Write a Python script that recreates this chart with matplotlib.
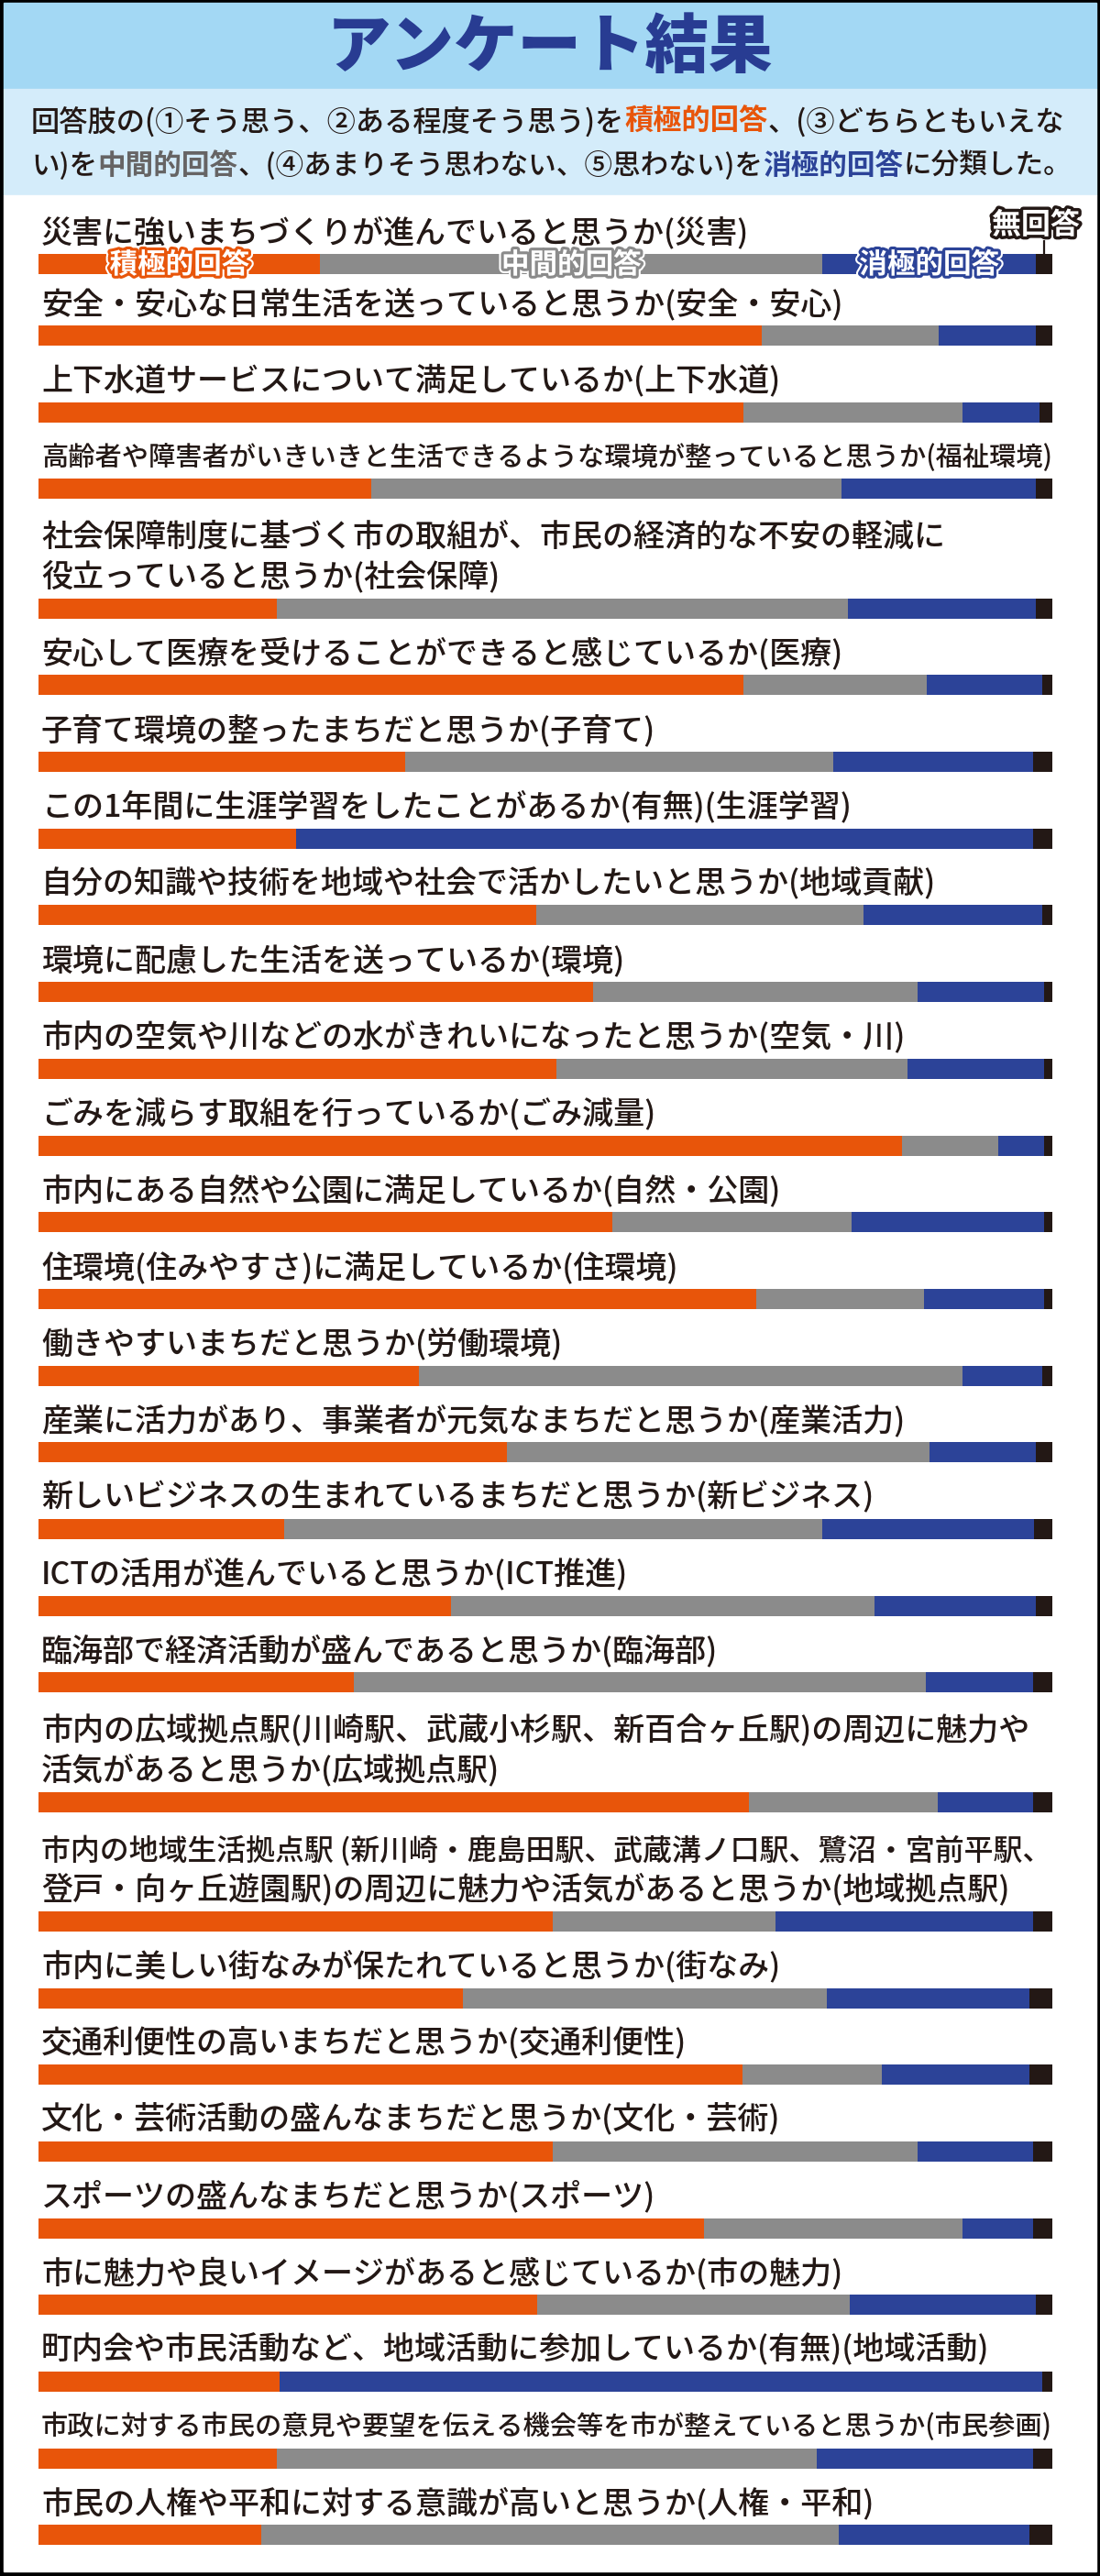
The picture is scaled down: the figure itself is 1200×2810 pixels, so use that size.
import matplotlib
matplotlib.use('Agg')
import matplotlib.pyplot as plt
from matplotlib.patches import Rectangle
import matplotlib.patheffects as pe

plt.rcParams['font.family'] = ['Noto Sans CJK JP', 'DejaVu Sans']

# ---------------- data ----------------
title = 'アンケート結果'
intro_line1 = [('回答肢の(①そう思う、②ある程度そう思う)を', 'plain'),
               ('積極的回答', 'pos'),
               ('、(③どちらともいえな', 'plain')]
intro_line2 = [('い)を', 'plain'), ('中間的回答', 'mid'),
               ('、(④あまりそう思わない、⑤思わない)を', 'plain'),
               ('消極的回答', 'neg'), ('に分類した。', 'plain')]

categories = ['積極的回答', '中間的回答', '消極的回答', '無回答']

questions = [
    '災害に強いまちづくりが進んでいると思うか(災害)',
    '安全・安心な日常生活を送っていると思うか(安全・安心)',
    '上下水道サービスについて満足しているか(上下水道)',
    '高齢者や障害者がいきいきと生活できるような環境が整っていると思うか(福祉環境)',
    '社会保障制度に基づく市の取組が、市民の経済的な不安の軽減に\n役立っていると思うか(社会保障)',
    '安心して医療を受けることができると感じているか(医療)',
    '子育て環境の整ったまちだと思うか(子育て)',
    'この1年間に生涯学習をしたことがあるか(有無)(生涯学習)',
    '自分の知識や技術を地域や社会で活かしたいと思うか(地域貢献)',
    '環境に配慮した生活を送っているか(環境)',
    '市内の空気や川などの水がきれいになったと思うか(空気・川)',
    'ごみを減らす取組を行っているか(ごみ減量)',
    '市内にある自然や公園に満足しているか(自然・公園)',
    '住環境(住みやすさ)に満足しているか(住環境)',
    '働きやすいまちだと思うか(労働環境)',
    '産業に活力があり、事業者が元気なまちだと思うか(産業活力)',
    '新しいビジネスの生まれているまちだと思うか(新ビジネス)',
    'ICTの活用が進んでいると思うか(ICT推進)',
    '臨海部で経済活動が盛んであると思うか(臨海部)',
    '市内の広域拠点駅(川崎駅、武蔵小杉駅、新百合ヶ丘駅)の周辺に魅力や\n活気があると思うか(広域拠点駅)',
    '市内の地域生活拠点駅 (新川崎・鹿島田駅、武蔵溝ノ口駅、鷺沼・宮前平駅、\n登戸・向ヶ丘遊園駅)の周辺に魅力や活気があると思うか(地域拠点駅)',
    '市内に美しい街なみが保たれていると思うか(街なみ)',
    '交通利便性の高いまちだと思うか(交通利便性)',
    '文化・芸術活動の盛んなまちだと思うか(文化・芸術)',
    'スポーツの盛んなまちだと思うか(スポーツ)',
    '市に魅力や良いイメージがあると感じているか(市の魅力)',
    '町内会や市民活動など、地域活動に参加しているか(有無)(地域活動)',
    '市政に対する市民の意見や要望を伝える機会等を市が整えていると思うか(市民参画)',
    '市民の人権や平和に対する意識が高いと思うか(人権・平和)',
]

positive = [27.8, 71.3, 69.5, 32.8, 23.5, 69.5, 36.2, 25.4, 49.1, 54.7,
            51.1, 85.2, 56.6, 70.8, 37.5, 46.2, 24.2, 40.7, 31.1, 70.1,
            50.7, 41.9, 69.4, 50.7, 65.6, 49.2, 23.8, 23.5, 22.0]
neutral = [49.5, 17.5, 21.6, 46.4, 56.3, 18.1, 42.2, 0.0, 32.3, 32.0,
           34.6, 9.5, 23.6, 16.5, 53.6, 41.7, 53.1, 41.8, 56.4, 18.6,
           22.0, 35.9, 13.8, 36.0, 25.5, 30.8, 0.0, 53.3, 56.9]
negative = [21.1, 9.6, 7.6, 19.2, 18.6, 11.4, 19.7, 72.7, 17.6, 12.5,
            13.5, 4.5, 19.0, 11.9, 7.9, 10.5, 20.9, 15.9, 10.6, 9.4,
            25.4, 19.9, 14.5, 11.4, 7.0, 18.4, 75.2, 21.3, 18.8]
no_answer = [1.6, 1.6, 1.3, 1.6, 1.6, 1.0, 1.9, 1.9, 1.0, 0.8,
             0.8, 0.8, 0.8, 0.8, 1.0, 1.6, 1.8, 1.6, 1.9, 1.9,
             1.9, 2.3, 2.3, 1.9, 1.9, 1.6, 1.0, 1.9, 2.3]

# ---------------- style / layout ----------------
W, H = 1200, 2810
ORANGE = '#E8550A'
GRAY = '#8B8B8B'
BLUE = '#2C4398'
BLACK = '#231815'
TITLE_BG = '#A3D8F4'
INTRO_BG = '#D4ECFA'
TITLE_COLOR = '#283C92'
seg_colors = [ORANGE, GRAY, BLUE, BLACK]

BAR_L, BAR_R = 42, 1148
BAR_H = 22
FIRST_TOP = 277
FIRST_GAP = 78
ROW_STEP = 83.7
EXTRA_LINE = 46.5
LABEL_X = 45
LABEL_SIZE = 24.5
LINE_GAP = 43

fig = plt.figure(figsize=(W / 100, H / 100), dpi=100)
fig.patch.set_facecolor('black')
bg = fig.add_axes([0, 0, 1, 1])
bg.set_xlim(0, W)
bg.set_ylim(H, 0)
bg.axis('off')

bg.add_patch(Rectangle((0, 0), W, H, color='black', zorder=0))
bg.add_patch(Rectangle((4, 3), W - 8, 94, color=TITLE_BG, zorder=1))
bg.add_patch(Rectangle((4, 97), W - 8, 116, color=INTRO_BG, zorder=1))
bg.add_patch(Rectangle((4, 213), W - 8, H - 5 - 213, color='white', zorder=1))

bg.text(W / 2, 53, title, fontsize=50, fontweight='black', color=TITLE_COLOR,
        ha='center', va='center', zorder=3)

renderer = fig.canvas.get_renderer()

style_kw = {
    'plain': dict(color=BLACK, fontweight='medium'),
    'pos': dict(color=ORANGE, fontweight='bold'),
    'mid': dict(color='#666464', fontweight='bold'),
    'neg': dict(color=BLUE, fontweight='bold'),
}


def draw_pieces(x, y, pieces, size, maxw, fit=True):
    texts = []
    cur = x
    for s, st in pieces:
        t = bg.text(cur, y, s, fontsize=size, ha='left', va='center', zorder=3,
                    **style_kw[st])
        cur += t.get_window_extent(renderer).width
        texts.append(t)
    total = cur - x
    if fit and total > maxw:
        for t in texts:
            t.remove()
        draw_pieces(x, y, pieces, size * maxw / total, maxw, fit=False)


draw_pieces(34, 133, intro_line1, 22.5, 1135)
draw_pieces(34, 181, intro_line2, 22.5, 1135)

# row positions
tops = []
y = FIRST_TOP
for i, q in enumerate(questions):
    if i > 0:
        n = q.count('\n') + 1
        y += (FIRST_GAP if i == 1 else ROW_STEP) + EXTRA_LINE * (n - 1)
    tops.append(y)

for q, top in zip(questions, tops):
    lines = q.split('\n')
    for j, line in enumerate(lines):
        ly = top - 23 - LINE_GAP * (len(lines) - 1 - j)
        draw_pieces(LABEL_X, ly, [(line, 'plain')], LABEL_SIZE, BAR_R - LABEL_X)

# bars
ax = fig.add_axes([BAR_L / W, 0, (BAR_R - BAR_L) / W, 1])
ax.set_xlim(0, 100)
ax.set_ylim(H, 0)
ax.axis('off')
ax.patch.set_alpha(0)

centers = [t + BAR_H / 2 for t in tops]
series = [positive, neutral, negative, no_answer]
left = [0.0] * len(questions)
for vals, col, cat in zip(series, seg_colors, categories):
    ax.barh(centers, vals, left=left, height=BAR_H, color=col, linewidth=0,
            label=cat, zorder=2)
    left = [a + b for a, b in zip(left, vals)]

# in-bar legend on the first row
c0 = centers[0]
bounds = [0, positive[0], positive[0] + neutral[0],
          positive[0] + neutral[0] + negative[0], 100]
for k in range(3):
    xm = (bounds[k] + bounds[k + 1]) / 2
    ax.text(xm, c0 + 1, categories[k], fontsize=22, fontweight='bold', color='white',
            ha='center', va='center', zorder=5,
            path_effects=[pe.Stroke(linewidth=7.5, foreground='white'),
                          pe.Stroke(linewidth=4.5, foreground=seg_colors[k]),
                          pe.Normal()])

xn = (bounds[3] + bounds[4]) / 2
ax.plot([xn, xn], [262, tops[0]], color=BLACK, lw=1.6, zorder=4,
        solid_capstyle='butt')
bg.text(1130, 246, categories[3], fontsize=23, fontweight='bold', color='white',
        ha='center', va='center', zorder=6,
        path_effects=[pe.Stroke(linewidth=5, foreground=BLACK), pe.Normal()])

fig.savefig('out.png', dpi=100, facecolor='black')
